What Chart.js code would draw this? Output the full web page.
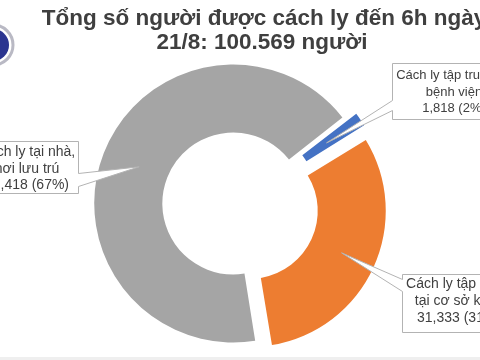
<!DOCTYPE html>
<html>
<head>
<meta charset="utf-8">
<script src="https://cdn.jsdelivr.net/npm/chart.js@4.4.1/dist/chart.umd.min.js"></script>
<style>
html,body{margin:0;padding:0;background:#fff;overflow:hidden}
#wrap{position:relative;width:480px;height:360px}
</style>
</head>
<body>
<div id="wrap"><canvas id="c" width="480" height="360"></canvas></div>
<script>
// ---- data ----
const categories = ["Cách ly tập trung tại bệnh viện", "Cách ly tập trung tại cơ sở khác", "Cách ly tại nhà, nơi lưu trú"];
const values = [1818, 31333, 67418];
const labelLines = [["Cách ly tập trung tại", "bệnh viện"], ["Cách ly tập trung", "tại cơ sở khác"], ["Cách ly tại nhà,", "nơi lưu trú"]];
const titleLines = ["Tổng số người được cách ly đến 6h ngày", "21/8: 100.569 người"];
const colors = ['#4472C4', '#ED7D31', '#A5A5A5'];

// ---- layout for callouts (positions only) ----
const calloutBoxes = [
  {x: 392.5, y: 63.5, w: 130, h: 56, side: 'left', p1: 100, p2: 110, cx: 454, base0: 79, lh: 16.5, font: '13px "Liberation Sans", Arial, sans-serif', tipShift: 0},
  {x: 402.5, y: 274.5, w: 120, h: 58, side: 'left', p1: 279, p2: 291, cx: 459, base0: 288, lh: 17, font: '14px "Liberation Sans", Arial, sans-serif', tipShift: 0},
  {x: -40.5, y: 141.5, w: 119, h: 52, side: 'right', p1: 173, p2: 186, cx: 27, base0: 156, lh: 16.5, font: '14px "Liberation Sans", Arial, sans-serif', tipShift: 0}
];

const total = values.reduce((a, b) => a + b, 0);

const calloutPlugin = {
  id: 'callouts',
  afterDatasetsDraw(chart) {
    const ctx = chart.ctx;
    const meta = chart.getDatasetMeta(0);
    meta.data.forEach((el, i) => {
      const b = calloutBoxes[i];
      const p = el.getProps(['x', 'y', 'startAngle', 'endAngle', 'innerRadius', 'outerRadius'], true);
      const mid = (p.startAngle + p.endAngle) / 2;
      const off = (el.options.offset || 0) / 4;
      const r = off + (p.innerRadius + p.outerRadius) / 2 + b.tipShift;
      const tx = p.x + Math.cos(mid) * r, ty = p.y + Math.sin(mid) * r;
      const L = b.x, T = b.y, R = b.x + b.w, B = b.y + b.h;
      ctx.save();
      ctx.beginPath();
      if (b.side === 'left') {
        ctx.moveTo(L, T); ctx.lineTo(R, T); ctx.lineTo(R, B); ctx.lineTo(L, B);
        ctx.lineTo(L, b.p2 + 0.5); ctx.lineTo(tx, ty); ctx.lineTo(L, b.p1 + 0.5); ctx.closePath();
      } else {
        ctx.moveTo(L, T); ctx.lineTo(R, T); ctx.lineTo(R, b.p1 + 0.5); ctx.lineTo(tx, ty);
        ctx.lineTo(R, b.p2 + 0.5); ctx.lineTo(R, B); ctx.lineTo(L, B); ctx.closePath();
      }
      ctx.fillStyle = '#ffffff';
      ctx.fill();
      ctx.strokeStyle = '#b3b3b3';
      ctx.lineWidth = 1;
      ctx.stroke();
      ctx.fillStyle = '#404040';
      ctx.font = b.font;
      ctx.textAlign = 'center';
      ctx.textBaseline = 'alphabetic';
      const pct = Math.round(values[i] / total * 100) + '%';
      const lines = [...labelLines[i], values[i].toLocaleString('en-US') + ' (' + pct + ')'];
      lines.forEach((t, k) => ctx.fillText(t, b.cx, b.base0 + k * b.lh));
      ctx.restore();
    });
  }
};

const decorPlugin = {
  id: 'decor',
  afterDraw(chart) {
    const ctx = chart.ctx;
    ctx.save();
    // title
    ctx.fillStyle = '#3f3f3f';
    ctx.font = 'bold 22.5px "Liberation Sans", Arial, sans-serif';
    ctx.textAlign = 'center';
    ctx.textBaseline = 'alphabetic';
    ctx.fillText(titleLines[0], 264, 25);
    ctx.fillText(titleLines[1], 262, 49);
    // partial logo at the left edge
    ctx.beginPath();
    ctx.arc(-7, 45, 20, 0, Math.PI * 2);
    ctx.strokeStyle = '#b9b9c4';
    ctx.lineWidth = 3;
    ctx.stroke();
    ctx.beginPath();
    ctx.arc(-7, 45, 16, 0, Math.PI * 2);
    ctx.fillStyle = '#2b3590';
    ctx.fill();
    ctx.beginPath();
    ctx.moveTo(-7, 45);
    ctx.arc(-7, 45, 16, -Math.PI * 0.62, -Math.PI * 0.38);
    ctx.closePath();
    ctx.fillStyle = '#d2323c';
    ctx.fill();
    // faint bottom strip
    ctx.fillStyle = '#efefef';
    ctx.fillRect(0, 357, 480, 3);
    ctx.restore();
  }
};

new Chart(document.getElementById('c'), {
  type: 'doughnut',
  data: {
    labels: categories,
    datasets: [{
      data: values,
      backgroundColor: colors,
      borderWidth: 0,
      offset: [32, 56, 16],
      hoverOffset: 0
    }]
  },
  options: {
    responsive: false,
    animation: false,
    events: [],
    rotation: 52,
    radius: 135,
    cutout: '49.6%',
    spacing: 0,
    layout: {padding: {left: 0, right: 6, top: 50, bottom: 0}},
    plugins: {
      legend: {display: false},
      tooltip: {enabled: false},
      title: {display: false}
    }
  },
  plugins: [calloutPlugin, decorPlugin]
});
</script>
</body>
</html>
